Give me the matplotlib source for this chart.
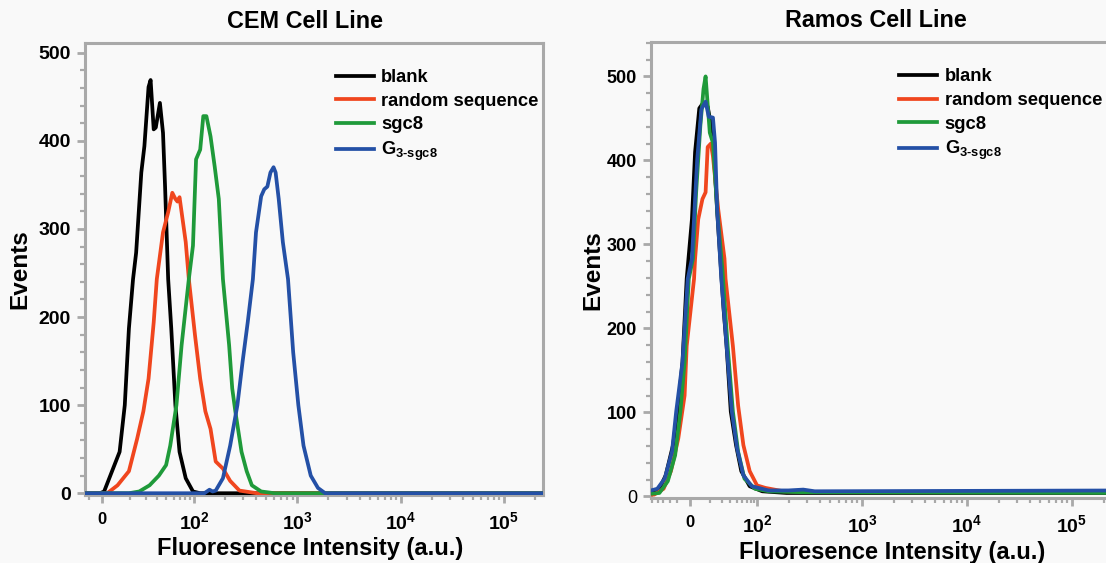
import numpy as np
import matplotlib.pyplot as plt

plt.rcParams['font.family'] = ['Liberation Sans', 'DejaVu Sans']
plt.rcParams['font.weight'] = 'bold'
plt.rcParams['mathtext.fontset'] = 'custom'
plt.rcParams['mathtext.rm'] = 'Liberation Sans:bold'
plt.rcParams['mathtext.it'] = 'Liberation Sans:bold'
plt.rcParams['mathtext.bf'] = 'Liberation Sans:bold'

# x values are in decade units of the display axis (2 = 10^2, 3 = 10^3 ...)
series = ['blank', 'random sequence', 'sgc8', r'G$_{\text{3-sgc8}}$']
colors = ['#000000', '#f0461e', '#1f9a3a', '#2450a6']
tick_text = ['0', r'$10^{2}$', r'$10^{3}$', r'$10^{4}$', r'$10^{5}$']

# CEM cell line
cem_blank_x = [0.95, 1.09, 1.13, 1.19, 1.28, 1.33, 1.37, 1.41, 1.44, 1.49, 1.52, 1.56, 1.58,
               1.61, 1.63, 1.67, 1.70, 1.72, 1.75, 1.78, 1.82, 1.86, 1.92, 1.99, 2.06, 5.40]
cem_blank_y = [0, 0, 2, 20, 47, 100, 187, 243, 273, 364, 394, 461, 469,
               413, 415, 443, 409, 348, 243, 187, 100, 47, 17, 2, 0, 0]
cem_random_x = [0.95, 1.16, 1.26, 1.37, 1.45, 1.51, 1.56, 1.61, 1.64, 1.70, 1.75, 1.79, 1.82, 1.84,
                1.86, 1.88, 1.92, 1.95, 2.01, 2.06, 2.11, 2.16, 2.21, 2.28, 2.35, 2.44, 2.61, 5.40]
cem_random_y = [0, 0, 9, 25, 62, 93, 130, 194, 243, 296, 319, 341, 334, 331,
                336, 319, 285, 243, 179, 130, 93, 73, 36, 28, 14, 3, 0, 0]
cem_sgc8_x = [0.95, 1.37, 1.47, 1.57, 1.66, 1.73, 1.77, 1.83, 1.88, 1.95, 1.99, 2.02, 2.06, 2.09,
              2.12, 2.16, 2.20, 2.24, 2.28, 2.34, 2.37, 2.40, 2.46, 2.51, 2.56, 2.65, 2.78, 5.40]
cem_sgc8_y = [0, 0, 2, 9, 20, 32, 54, 100, 168, 243, 281, 379, 390, 428,
              428, 405, 371, 334, 243, 168, 119, 93, 47, 25, 9, 2, 0, 0]
cem_g3_x = [0.95, 2.10, 2.15, 2.18, 2.21, 2.28, 2.35, 2.42, 2.47, 2.52, 2.57, 2.60, 2.65, 2.68,
            2.71, 2.74, 2.77, 2.79, 2.82, 2.86, 2.91, 2.96, 3.01, 3.06, 3.13, 3.20, 3.27, 5.40]
cem_g3_y = [0, 0, 4, 2, 3, 17, 54, 100, 149, 194, 243, 296, 337, 345,
            348, 364, 370, 364, 334, 285, 243, 160, 100, 54, 20, 6, 0, 0]

# Ramos cell line
ramos_blank_x = [0.99, 1.03, 1.07, 1.13, 1.20, 1.25, 1.29, 1.33, 1.38, 1.41, 1.45, 1.49, 1.53,
                 1.58, 1.62, 1.65, 1.68, 1.71, 1.75, 1.80, 1.85, 1.93, 2.05, 2.28, 5.60]
ramos_blank_y = [5, 6, 9, 25, 61, 108, 160, 259, 330, 410, 462, 469, 464,
                 429, 340, 283, 225, 179, 101, 61, 30, 12, 6, 4, 4]
ramos_random_x = [0.99, 1.02, 1.11, 1.18, 1.25, 1.31, 1.33, 1.40, 1.41, 1.44, 1.48, 1.51, 1.53, 1.56,
                  1.58, 1.63, 1.69, 1.70, 1.77, 1.82, 1.87, 1.93, 2.00, 2.08, 2.25, 2.60, 5.60]
ramos_random_y = [2, 2, 9, 30, 69, 120, 179, 259, 283, 330, 354, 362, 416, 420,
                  405, 342, 283, 259, 179, 108, 61, 30, 13, 10, 6, 5, 5]
ramos_sgc8_x = [0.99, 1.07, 1.15, 1.22, 1.27, 1.31, 1.35, 1.39, 1.42, 1.46, 1.49, 1.51, 1.55,
                1.58, 1.62, 1.67, 1.72, 1.77, 1.82, 1.88, 1.98, 2.11, 2.40, 5.60]
ramos_sgc8_y = [3, 4, 18, 49, 101, 160, 259, 283, 362, 441, 485, 500, 433,
                421, 342, 270, 179, 101, 53, 21, 9, 6, 5, 4]
ramos_g3_x = [0.99, 1.05, 1.12, 1.19, 1.23, 1.29, 1.34, 1.38, 1.43, 1.47, 1.51, 1.54, 1.58,
              1.60, 1.62, 1.66, 1.71, 1.76, 1.81, 1.87, 1.95, 2.11, 2.30, 2.44, 2.55, 5.60]
ramos_g3_y = [7, 9, 21, 53, 101, 160, 259, 283, 401, 461, 470, 452, 451,
              421, 342, 259, 179, 101, 57, 25, 12, 7, 7, 8, 6, 7]

grey = '#a9a9a9'
bg = '#f9f9f9'


def draw_panel(ax, xs, ys, title, zero_pos, xlim, ylim, ytick_size, title_x, xlabel_x, ylabel_x,
               leg_anchor):
    ax.set_facecolor(bg)
    for x, y, c, name in zip(xs, ys, colors, series):
        ax.plot(x, y, color=c, lw=2.7, label=name, zorder=3)
    ax.set_xlim(*xlim)
    ax.set_ylim(*ylim)

    for s in ax.spines.values():
        s.set_color(grey)
        s.set_linewidth(2.2)

    major = [zero_pos, 2, 3, 4, 5]
    ax.set_xticks(major)
    ax.set_xticklabels(tick_text, fontsize=14)
    ax.get_xticklabels()[0].set_fontsize(12)
    minor = [zero_pos + (2 - zero_pos) * np.log10(k) for k in range(2, 10)]
    minor += [d + np.log10(k) for d in range(2, 6) for k in range(2, 10)]
    minor += [zero_pos - d for d in (0.12, 0.19, 0.26, 0.31, 0.36)]
    ax.set_xticks([m for m in minor if xlim[0] < m < xlim[1]], minor=True)

    ax.set_yticks(range(0, 501, 100))
    ax.set_yticks(range(0, int(ylim[1]) + 1, 20), minor=True)
    ax.tick_params(axis='y', labelsize=ytick_size)
    ax.tick_params(which='major', direction='out', length=6, width=2, color=grey, pad=4)
    ax.tick_params(which='minor', direction='out', length=3.5, width=1.6, color=grey)
    ax.tick_params(axis='x', which='major', pad=6)

    ax.set_title(title, fontsize=16.8, fontweight='bold', pad=10.5, x=title_x)
    ax.set_xlabel('Fluoresence Intensity (a.u.)', fontsize=17, fontweight='bold')
    ax.xaxis.set_label_coords(xlabel_x, -0.094)
    ax.set_ylabel('Events', fontsize=17.5, fontweight='bold')
    ax.yaxis.set_label_coords(ylabel_x, 0.5)

    ax.legend(loc='upper left', bbox_to_anchor=leg_anchor, frameon=False, fontsize=13.2,
              handlelength=2.05, handletextpad=0.42, labelspacing=0.36, borderpad=0,
              borderaxespad=0)


fig = plt.figure(figsize=(11.06, 5.63), dpi=100, facecolor=bg)
ax1 = fig.add_axes([85 / 1106, 68 / 563, 458 / 1106, 452 / 563])
ax2 = fig.add_axes([651 / 1106, 65 / 563, 474 / 1106, 456 / 563])

draw_panel(ax1,
           [cem_blank_x, cem_random_x, cem_sgc8_x, cem_g3_x],
           [cem_blank_y, cem_random_y, cem_sgc8_y, cem_g3_y],
           'CEM Cell Line', 1.107, (0.945, 5.378), (-2, 511), 14,
           0.48, 0.492, -0.118, (0.548, 0.942))
draw_panel(ax2,
           [ramos_blank_x, ramos_random_x, ramos_sgc8_x, ramos_g3_x],
           [ramos_blank_y, ramos_random_y, ramos_sgc8_y, ramos_g3_y],
           'Ramos Cell Line', 1.362, (0.99, 5.505), (-2, 541), 13,
           0.475, 0.509, -0.099, (0.524, 0.942))
ax2.get_yticklabels()[0].set_fontweight('normal')

fig.savefig('out.png', dpi=100, facecolor=bg)
